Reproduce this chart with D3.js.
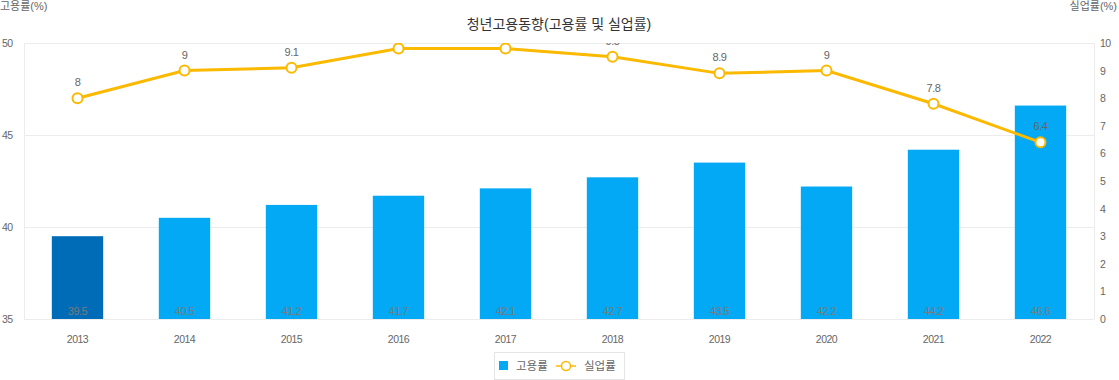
<!DOCTYPE html>
<html><head><meta charset="utf-8">
<script src="https://cdn.jsdelivr.net/npm/d3@7"></script>
<style>
body{margin:0;background:#fff;}
text{font-family:"Liberation Sans","Noto Sans CJK KR",Arial,sans-serif;}
</style></head>
<body><svg id="c" width="1119" height="380"></svg>
<script>
const years = ["2013","2014","2015","2016","2017","2018","2019","2020","2021","2022"];
const employment = [39.5,40.5,41.2,41.7,42.1,42.7,43.5,42.2,44.2,46.6];
const unemployment = [8,9,9.1,9.8,9.8,9.5,8.9,9,7.8,6.4];
const leftTicks = [35,40,45,50];
const rightTicks = [0,1,2,3,4,5,6,7,8,9,10];

const svg = d3.select("#c");
const L=24, R=1094, T=43, B=319;
const x = d3.scaleBand().domain(years).range([L,R]).paddingInner(0.52).paddingOuter(0.26);
const yL = d3.scaleLinear().domain([35,50]).range([B,T]);
const yR = d3.scaleLinear().domain([0,10]).range([B,T]);
const cx = d => x(d)+x.bandwidth()/2;

// grid
svg.append("g").selectAll("line").data(leftTicks).join("line")
  .attr("x1",L).attr("x2",R).attr("y1",d=>yL(d)).attr("y2",d=>yL(d))
  .attr("stroke","#ececec").attr("stroke-width",1).attr("shape-rendering","crispEdges");
svg.append("line").attr("x1",L).attr("x2",L).attr("y1",T).attr("y2",B).attr("stroke","#ececec").attr("shape-rendering","crispEdges");
svg.append("line").attr("x1",R).attr("x2",R).attr("y1",T).attr("y2",B).attr("stroke","#ececec").attr("shape-rendering","crispEdges");

// clip
svg.append("defs").append("clipPath").attr("id","plot").append("rect")
  .attr("x",L).attr("y",T).attr("width",R-L).attr("height",B-T);

// bars
svg.append("g").selectAll("rect").data(years).join("rect")
  .attr("x",d=>x(d)).attr("width",x.bandwidth())
  .attr("y",(d,i)=>yL(employment[i])).attr("height",(d,i)=>B-yL(employment[i]))
  .attr("fill",(d,i)=>i===0?"#006cb7":"#03a9f4");
svg.append("g").selectAll("text").data(years).join("text")
  .attr("x",cx).attr("y",B-4).attr("text-anchor","middle")
  .attr("font-size",11).attr("fill","#7a7a7a").attr("letter-spacing","-0.5")
  .text((d,i)=>employment[i]);

// line
const g = svg.append("g").attr("clip-path","url(#plot)");
const line = d3.line().x((d,i)=>cx(years[i])).y(d=>yR(d));
g.append("path").datum(unemployment).attr("d",line).attr("fill","none")
  .attr("stroke","#fbb900").attr("stroke-width",3);
g.selectAll("circle").data(unemployment).join("circle")
  .attr("cx",(d,i)=>cx(years[i])).attr("cy",d=>yR(d)).attr("r",5)
  .attr("fill","#fff").attr("stroke","#fbb900").attr("stroke-width",2);
g.selectAll("text").data(unemployment).join("text")
  .attr("x",(d,i)=>cx(years[i])).attr("y",d=>yR(d)-12).attr("text-anchor","middle")
  .attr("font-size",11).attr("fill","#666").attr("letter-spacing","-0.5")
  .text(d=>d);

// axes labels
svg.append("g").selectAll("text").data(leftTicks).join("text")
  .attr("x",2).attr("y",d=>yL(d)+4).attr("font-size",10.5).attr("fill","#666").attr("letter-spacing","-0.5").text(d=>d);
svg.append("g").selectAll("text").data(rightTicks).join("text")
  .attr("x",1100).attr("y",d=>yR(d)+4).attr("font-size",10.5).attr("fill","#666").attr("letter-spacing","-0.5").text(d=>d);
svg.append("g").selectAll("text").data(years).join("text")
  .attr("x",cx).attr("y",343).attr("text-anchor","middle").attr("font-size",10.5).attr("fill","#666").attr("letter-spacing","-0.5").text(d=>d);

svg.append("text").attr("x",0).attr("y",10).attr("font-size",11).attr("fill","#666").text("고용률(%)");
svg.append("text").attr("x",1117).attr("y",10).attr("text-anchor","end").attr("font-size",11).attr("fill","#666").text("실업률(%)");
svg.append("text").attr("x",559).attr("y",29).attr("text-anchor","middle").attr("font-size",14).attr("fill","#333").text("청년고용동향(고용률 및 실업률)");

// legend
const lg = svg.append("g");
lg.append("rect").attr("x",494.5).attr("y",352.5).attr("width",130).attr("height",27).attr("fill","#fff").attr("stroke","#e5e5e5");
lg.append("rect").attr("x",499).attr("y",361).attr("width",9).attr("height",9).attr("fill","#03a9f4");
lg.append("text").attr("x",516).attr("y",370).attr("font-size",11.5).attr("fill","#666").text("고용률");
lg.append("line").attr("x1",556).attr("x2",576).attr("y1",366).attr("y2",366).attr("stroke","#fbb900").attr("stroke-width",1.5);
lg.append("circle").attr("cx",566).attr("cy",366).attr("r",4.5).attr("fill","#fff").attr("stroke","#fbb900").attr("stroke-width",1.5);
lg.append("text").attr("x",584).attr("y",370).attr("font-size",11.5).attr("fill","#666").text("실업률");
</script></body></html>
